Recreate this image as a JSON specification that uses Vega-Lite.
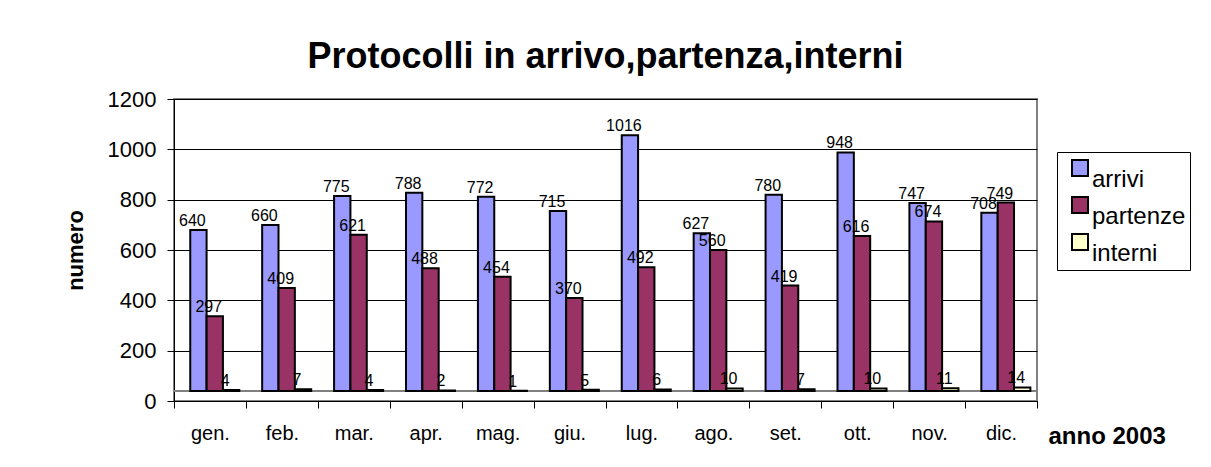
{
  "$schema": "https://vega.github.io/schema/vega-lite/v6.json",
  "width": 863,
  "height": 302,
  "autosize": {"type": "none"},
  "padding": {"left": 174, "top": 99, "right": 174, "bottom": 66},
  "background": "white",
  "title": {"text": "Protocolli in arrivo,partenza,interni", "fontSize": 36, "font": "Liberation Sans", "fontWeight": "bold", "color": "black", "anchor": "middle", "frame": "group", "baseline": "alphabetic", "offset": -16},
  "data": {"values": [
    {"mese": "gen.", "serie": "arrivi", "valore": 640},
    {"mese": "feb.", "serie": "arrivi", "valore": 660},
    {"mese": "mar.", "serie": "arrivi", "valore": 775},
    {"mese": "apr.", "serie": "arrivi", "valore": 788},
    {"mese": "mag.", "serie": "arrivi", "valore": 772},
    {"mese": "giu.", "serie": "arrivi", "valore": 715},
    {"mese": "lug.", "serie": "arrivi", "valore": 1016},
    {"mese": "ago.", "serie": "arrivi", "valore": 627},
    {"mese": "set.", "serie": "arrivi", "valore": 780},
    {"mese": "ott.", "serie": "arrivi", "valore": 948},
    {"mese": "nov.", "serie": "arrivi", "valore": 747},
    {"mese": "dic.", "serie": "arrivi", "valore": 708},
    {"mese": "gen.", "serie": "partenze", "valore": 297},
    {"mese": "feb.", "serie": "partenze", "valore": 409},
    {"mese": "mar.", "serie": "partenze", "valore": 621},
    {"mese": "apr.", "serie": "partenze", "valore": 488},
    {"mese": "mag.", "serie": "partenze", "valore": 454},
    {"mese": "giu.", "serie": "partenze", "valore": 370},
    {"mese": "lug.", "serie": "partenze", "valore": 492},
    {"mese": "ago.", "serie": "partenze", "valore": 560},
    {"mese": "set.", "serie": "partenze", "valore": 419},
    {"mese": "ott.", "serie": "partenze", "valore": 616},
    {"mese": "nov.", "serie": "partenze", "valore": 674},
    {"mese": "dic.", "serie": "partenze", "valore": 749},
    {"mese": "gen.", "serie": "interni", "valore": 4},
    {"mese": "feb.", "serie": "interni", "valore": 7},
    {"mese": "mar.", "serie": "interni", "valore": 4},
    {"mese": "apr.", "serie": "interni", "valore": 2},
    {"mese": "mag.", "serie": "interni", "valore": 1},
    {"mese": "giu.", "serie": "interni", "valore": 5},
    {"mese": "lug.", "serie": "interni", "valore": 6},
    {"mese": "ago.", "serie": "interni", "valore": 10},
    {"mese": "set.", "serie": "interni", "valore": 7},
    {"mese": "ott.", "serie": "interni", "valore": 10},
    {"mese": "nov.", "serie": "interni", "valore": 11},
    {"mese": "dic.", "serie": "interni", "valore": 14}
  ]},
  "layer": [
    {
      "data": {"values": [{}]},
      "mark": {"type": "rule", "color": "#808080", "strokeWidth": 2, "yOffset": -10},
      "encoding": {"y": {"datum": 0, "type": "quantitative"}}
    },
    {
      "mark": {"type": "bar", "stroke": "black", "strokeWidth": 2, "yOffset": -10, "y2Offset": -10},
      "encoding": {
        "x": {
          "field": "mese", "type": "nominal",
          "sort": ["gen.", "feb.", "mar.", "apr.", "mag.", "giu.", "lug.", "ago.", "set.", "ott.", "nov.", "dic."],
          "scale": {"paddingInner": 0, "paddingOuter": 0},
          "axis": {
            "title": "anno 2003", "titleFontSize": 24, "titleFontWeight": "bold", "titleColor": "black",
            "titleAlign": "left", "titleX": 874, "titleY": 42, "titleBaseline": "alphabetic",
            "labelFontSize": 20, "labelAngle": 0, "labelBaseline": "alphabetic", "labelPadding": 31, "labelColor": "black",
            "tickSize": 7, "tickBand": "extent", "tickColor": "black", "domainColor": "black", "grid": false
          }
        },
        "xOffset": {
          "field": "serie", "type": "nominal", "sort": ["arrivi", "partenze", "interni"],
          "scale": {"paddingInner": 0, "paddingOuter": 0.7, "align": 0.71}
        },
        "y": {
          "field": "valore", "type": "quantitative",
          "scale": {"domain": [0, 1200], "nice": false},
          "axis": {
            "values": [0, 200, 400, 600, 800, 1000, 1200], "format": "d",
            "title": "numero", "titleFontSize": 22, "titleFontWeight": "bold", "titleColor": "black", "titlePadding": 20,
            "labelFontSize": 22, "labelColor": "black", "labelPadding": 11,
            "tickSize": 7, "tickColor": "black", "domainColor": "black",
            "grid": true, "gridColor": "black", "gridWidth": 1
          }
        },
        "color": {
          "field": "serie", "type": "nominal",
          "scale": {"domain": ["arrivi", "partenze", "interni"], "range": ["#9999FF", "#993366", "#FFFFCC"]},
          "legend": {
            "title": null, "orient": "none", "legendX": 883, "legendY": 53,
            "strokeColor": "black", "fillColor": "white", "padding": 4,
            "symbolType": "square", "symbolSize": 256, "symbolStrokeColor": "black", "symbolStrokeWidth": 2, "symbolOffset": 7,
            "labelFontSize": 24, "labelBaseline": "top", "labelOffset": 0, "rowPadding": 1, "labelColor": "black"
          }
        }
      }
    },
    {
      "mark": {"type": "text", "dx": -6, "dy": -14, "baseline": "alphabetic", "fontSize": 16, "font": "Liberation Sans", "color": "black"},
      "encoding": {
        "x": {"field": "mese", "type": "nominal", "sort": ["gen.", "feb.", "mar.", "apr.", "mag.", "giu.", "lug.", "ago.", "set.", "ott.", "nov.", "dic."]},
        "xOffset": {"field": "serie", "type": "nominal", "sort": ["arrivi", "partenze", "interni"]},
        "y": {"field": "valore", "type": "quantitative"},
        "text": {"field": "valore", "type": "quantitative"}
      }
    }
  ],
  "config": {
    "font": "Liberation Sans",
    "view": {"stroke": "#808080", "strokeWidth": 2},
    "axis": {"labelFont": "Liberation Sans", "titleFont": "Liberation Sans"},
    "legend": {"labelFont": "Liberation Sans"}
  }
}
